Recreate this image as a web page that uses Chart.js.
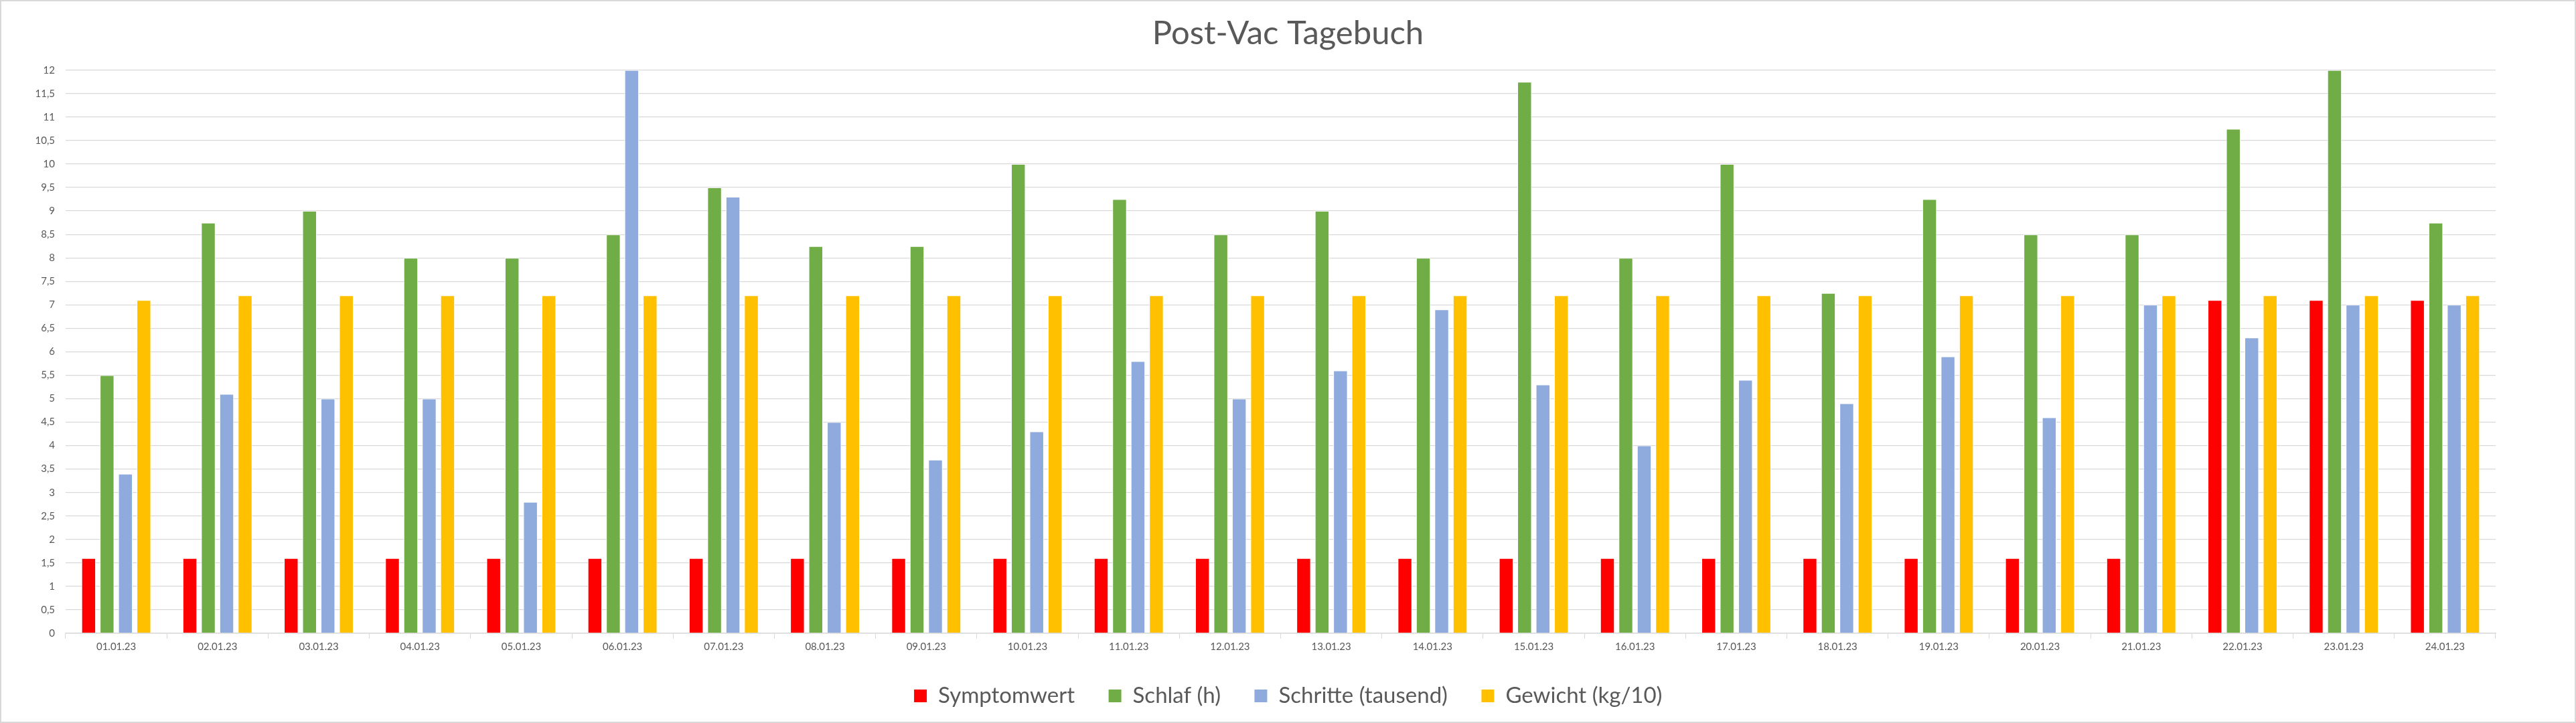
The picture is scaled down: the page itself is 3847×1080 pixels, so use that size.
<!DOCTYPE html>
<html>
<head>
<meta charset="utf-8">
<script src="https://cdn.jsdelivr.net/npm/chart.js@4/dist/chart.umd.min.js"></script>
<style>
    html, body { margin: 0; padding: 0; background: #fff; }
    #wrap { width: 3847px; height: 1080px; }
    canvas { outline: 2px solid #d9d9d9; outline-offset: -2px; }
</style>
</head>
<body>
<div id="wrap"><canvas id="chart" width="3847" height="1080"></canvas></div>
<script>
const days = ['01.01.23', '02.01.23', '03.01.23', '04.01.23', '05.01.23', '06.01.23', '07.01.23', '08.01.23',
    '09.01.23', '10.01.23', '11.01.23', '12.01.23', '13.01.23', '14.01.23', '15.01.23', '16.01.23',
    '17.01.23', '18.01.23', '19.01.23', '20.01.23', '21.01.23', '22.01.23', '23.01.23', '24.01.23'];

const symptomwert = [1.6, 1.6, 1.6, 1.6, 1.6, 1.6, 1.6, 1.6, 1.6, 1.6, 1.6, 1.6,
    1.6, 1.6, 1.6, 1.6, 1.6, 1.6, 1.6, 1.6, 1.6, 7.1, 7.1, 7.1];
const schlaf = [5.5, 8.75, 9, 8, 8, 8.5, 9.5, 8.25, 8.25, 10, 9.25, 8.5,
    9, 8, 11.75, 8, 10, 7.25, 9.25, 8.5, 8.5, 10.75, 12, 8.75];
const schritte = [3.4, 5.1, 5, 5, 2.8, 12, 9.3, 4.5, 3.7, 4.3, 5.8, 5,
    5.6, 6.9, 5.3, 4, 5.4, 4.9, 5.9, 4.6, 7, 6.3, 7, 7];
const gewicht = [7.1, 7.2, 7.2, 7.2, 7.2, 7.2, 7.2, 7.2, 7.2, 7.2, 7.2, 7.2,
    7.2, 7.2, 7.2, 7.2, 7.2, 7.2, 7.2, 7.2, 7.2, 7.2, 7.2, 7.2];

const yMin = 0, yMax = 12, yStep = 0.5;

Chart.defaults.font.family = 'Lato';
Chart.defaults.color = '#595959';

function bar(label, data, color) {
    return {
        label: label,
        data: data,
        backgroundColor: color,
        borderColor: '#ffffff',
        borderWidth: 1,
        categoryPercentage: 0.727,
        barPercentage: 0.78
    };
}

new Chart(document.getElementById('chart'), {
    type: 'bar',
    data: {
        labels: days,
        datasets: [
            bar('Symptomwert', symptomwert, '#ff0000'),
            bar('Schlaf (h)', schlaf, '#70ad47'),
            bar('Schritte (tausend)', schritte, '#8faadc'),
            bar('Gewicht (kg/10)', gewicht, '#ffc000')
        ]
    },
    options: {
        responsive: false,
        devicePixelRatio: 1,
        animation: false,
        layout: { padding: { left: 0, right: 0, top: 0, bottom: 14 } },
        scales: {
            x: {
                grid: {
                    offset: true,
                    drawOnChartArea: false,
                    drawTicks: true,
                    tickLength: 8,
                    color: '#d9d9d9'
                },
                border: { color: '#d9d9d9', width: 1.5 },
                ticks: { font: { size: 15 }, color: '#595959', maxRotation: 0, autoSkip: false, padding: 3 },
                afterFit: (s) => { s.height = 27; }
            },
            y: {
                min: yMin,
                max: yMax,
                grid: { color: '#d9d9d9', lineWidth: 1.3, drawTicks: false },
                border: { display: false },
                ticks: {
                    stepSize: yStep,
                    font: { size: 15 },
                    color: '#595959',
                    padding: 16,
                    callback: (v) => String(v).replace('.', ',')
                },
                afterFit: (s) => { s.width = 98; }
            },
            // empty right margin, keeps the legend centred on the page
            spacer: {
                position: 'right',
                grid: { drawOnChartArea: false, drawTicks: false },
                border: { display: false },
                ticks: { display: false },
                afterFit: (s) => { s.width = 120; }
            }
        },
        plugins: {
            title: {
                display: true,
                text: 'Post-Vac Tagebuch',
                color: '#595959',
                font: { size: 49, weight: 'normal' },
                padding: { top: 21, bottom: 25 }
            },
            legend: {
                position: 'bottom',
                labels: {
                    boxWidth: 20,
                    boxHeight: 20,
                    padding: 50,
                    color: '#595959',
                    font: { size: 33 }
                }
            },
            tooltip: { enabled: false }
        }
    }
});
</script>
</body>
</html>
